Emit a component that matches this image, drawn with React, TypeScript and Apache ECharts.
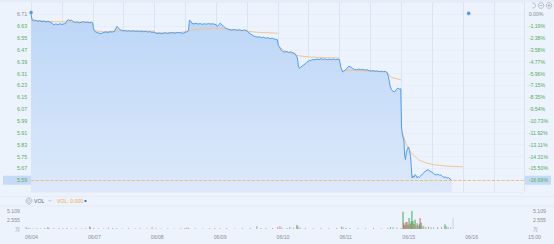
import React, { useEffect, useRef } from "react";
import * as echarts from "echarts";

// Trading days (240 minutes each), x is the minute index across all days
const DAYS = ["06/04", "06/07", "06/08", "06/09", "06/10", "06/11", "06/15", "06/16"];
const END_LABEL = "15:00";
const PREV_CLOSE = 6.71;
const LAST_PRICE = 5.59;

// Price (minute index, price)
const PRICE: [number, number][] = [
  [0, 6.71], [4, 6.672], [10, 6.665], [18, 6.668], [26, 6.662], [34, 6.666], [42, 6.66], [50, 6.664], [58, 6.658], [66, 6.662], [74, 6.657], [82, 6.65], [88, 6.638], [96, 6.645], [104, 6.64], [112, 6.646], [120, 6.641], [128, 6.645], [134, 6.648], [140, 6.668], [146, 6.672], [152, 6.668], [158, 6.67], [164, 6.66], [172, 6.655], [180, 6.658], [188, 6.652], [196, 6.656], [204, 6.66], [212, 6.654], [220, 6.657], [228, 6.652], [236, 6.655], [240, 6.65],
  [242, 6.62], [246, 6.598], [252, 6.59], [260, 6.585], [268, 6.58], [276, 6.582], [284, 6.588], [292, 6.59], [300, 6.587], [308, 6.592], [316, 6.59], [324, 6.594], [330, 6.615], [334, 6.628], [338, 6.62], [344, 6.608], [350, 6.603], [358, 6.598], [366, 6.6], [374, 6.596], [382, 6.599], [390, 6.595], [398, 6.598], [406, 6.594], [414, 6.597], [422, 6.593], [430, 6.596], [438, 6.592], [446, 6.595], [454, 6.59], [462, 6.593], [470, 6.588], [478, 6.59],
  [482, 6.585], [490, 6.58], [498, 6.583], [506, 6.578], [514, 6.582], [522, 6.585], [530, 6.58], [540, 6.584], [550, 6.586], [560, 6.582], [570, 6.587], [580, 6.585], [592, 6.582], [600, 6.588], [606, 6.592], [612, 6.6], [616, 6.67], [620, 6.665], [626, 6.648], [634, 6.645], [642, 6.648], [650, 6.644], [658, 6.647], [666, 6.642], [674, 6.646], [682, 6.643], [690, 6.647], [698, 6.644], [706, 6.646], [714, 6.642], [720, 6.64],
  [724, 6.628], [730, 6.64], [736, 6.65], [742, 6.638], [748, 6.63], [756, 6.617], [764, 6.61], [772, 6.606], [780, 6.603], [790, 6.607], [800, 6.602], [810, 6.605], [820, 6.6], [830, 6.604], [840, 6.598], [848, 6.583], [856, 6.575], [864, 6.565], [872, 6.56], [880, 6.556], [888, 6.558], [896, 6.552], [904, 6.555], [912, 6.548], [920, 6.552], [930, 6.546], [940, 6.548], [950, 6.54], [958, 6.538],
  [962, 6.5], [966, 6.49], [972, 6.47], [978, 6.46], [986, 6.455], [994, 6.458], [1002, 6.452], [1010, 6.456], [1018, 6.45], [1024, 6.448], [1030, 6.435], [1036, 6.415], [1040, 6.36], [1044, 6.345], [1048, 6.352], [1054, 6.36], [1060, 6.368], [1066, 6.375], [1072, 6.385], [1078, 6.392], [1084, 6.398], [1090, 6.4], [1096, 6.405], [1104, 6.403], [1112, 6.408], [1120, 6.404], [1128, 6.41], [1136, 6.405], [1144, 6.408], [1152, 6.403], [1160, 6.407], [1168, 6.404], [1176, 6.408], [1184, 6.403], [1192, 6.406], [1199, 6.404],
  [1204, 6.36], [1208, 6.335], [1214, 6.32], [1220, 6.33], [1228, 6.345], [1236, 6.36], [1242, 6.355], [1250, 6.345], [1258, 6.338], [1266, 6.335], [1274, 6.34], [1282, 6.336], [1290, 6.338], [1298, 6.333], [1306, 6.336], [1314, 6.33], [1322, 6.327], [1330, 6.33], [1338, 6.325], [1346, 6.328], [1354, 6.323], [1362, 6.326], [1370, 6.322], [1378, 6.325], [1384, 6.318], [1390, 6.29], [1396, 6.23], [1402, 6.2], [1408, 6.19], [1414, 6.186], [1420, 6.2], [1426, 6.212], [1432, 6.205], [1438, 6.207],
  [1441, 5.95], [1444, 5.9], [1447, 5.88], [1450, 5.86], [1453, 5.76], [1456, 5.73], [1460, 5.78], [1464, 5.8], [1468, 5.815], [1472, 5.79], [1476, 5.75], [1479, 5.68], [1482, 5.605], [1486, 5.62], [1490, 5.61], [1494, 5.628], [1498, 5.62], [1502, 5.606], [1506, 5.615], [1510, 5.61], [1516, 5.62], [1522, 5.632], [1528, 5.64], [1534, 5.652], [1540, 5.658], [1546, 5.66], [1552, 5.65], [1558, 5.645], [1564, 5.638], [1570, 5.63], [1576, 5.626], [1582, 5.63], [1588, 5.624], [1594, 5.626], [1600, 5.615], [1606, 5.61], [1612, 5.612], [1618, 5.605], [1624, 5.607], [1630, 5.598], [1636, 5.59],
];

// Average price line ('-' breaks the line)
const AVG: [number, number | string][] = [
  [2, 6.68], [20, 6.668], [50, 6.663], [90, 6.66], [140, 6.658], [200, 6.658], [240, 6.657], [241, "-"],
  [242, 6.6], [280, 6.592], [340, 6.597], [400, 6.598], [480, 6.596], [481, "-"],
  [482, 6.585], [520, 6.585], [580, 6.587], [620, 6.6], [660, 6.61], [720, 6.615], [760, 6.61], [800, 6.603], [848, 6.593], [900, 6.586], [960, 6.582], [962, "-"],
  [964, 6.49], [990, 6.46], [1040, 6.43], [1080, 6.422], [1140, 6.418], [1200, 6.415], [1205, "-"],
  [1210, 6.33], [1260, 6.33], [1320, 6.325], [1370, 6.322], [1385, 6.315], [1400, 6.285], [1440, 6.267], [1441, "-"],
  [1443, 5.915], [1460, 5.83], [1481, 5.77], [1508, 5.727], [1540, 5.705], [1573, 5.693], [1620, 5.685], [1680, 5.68],
];

const DOTS: [number, number][] = [[0, 6.722], [1702, 6.716]];

// Volume (minute index, volume in 万, direction: 1 up / -1 down / 0 flat)
const VOL: [number, number, number][] = [
  [4, 0.6, -1], [12, 0.25, 1], [20, 0.2, -1], [30, 0.15, 1], [45, 0.2, -1], [60, 0.15, -1], [75, 0.25, 1], [87, 0.55, -1], [92, 0.3, -1], [110, 0.2, 1], [130, 0.25, 1], [145, 0.2, -1], [160, 0.3, 1], [175, 0.15, -1], [195, 0.2, 1], [215, 0.15, -1], [232, 0.2, 1],
  [246, 0.7, -1], [250, 0.5, 1], [262, 0.3, -1], [280, 0.2, 1], [300, 0.15, -1], [318, 0.35, 1], [335, 0.3, -1], [350, 0.2, 1], [370, 0.15, -1], [395, 0.2, 1], [420, 0.15, -1], [440, 0.2, 1], [465, 0.15, -1],
  [485, 0.5, -1], [500, 0.2, 1], [520, 0.15, -1], [545, 0.2, 1], [570, 0.15, -1], [595, 0.2, 1], [610, 0.3, -1], [618, 0.4, 1], [625, 0.3, -1], [650, 0.2, -1], [680, 0.15, 1], [705, 0.2, -1],
  [725, 0.3, 1], [745, 0.2, -1], [770, 0.25, 1], [800, 0.15, -1], [830, 0.2, 1], [860, 0.3, -1], [885, 0.85, -1], [900, 0.3, 1], [920, 0.25, -1], [945, 0.3, 1],
  [965, 0.6, 1], [973, 0.85, 1], [980, 0.4, -1], [1000, 0.3, -1], [1011, 0.55, -1], [1025, 0.35, 1], [1038, 1.15, -1], [1042, 0.7, 1], [1050, 0.4, -1], [1070, 0.25, 1], [1100, 0.2, -1], [1130, 0.25, 1], [1160, 0.2, -1], [1190, 0.25, 1],
  [1208, 0.7, -1], [1214, 0.5, 1], [1225, 0.35, 1], [1240, 0.3, -1], [1270, 0.2, 1], [1300, 0.2, -1], [1330, 0.25, 1], [1360, 0.2, -1], [1385, 0.3, 1], [1395, 0.6, -1], [1405, 0.5, -1], [1420, 0.35, 1], [1435, 0.3, -1],
  [1443, 4.9, -1], [1446, 1.6, 1], [1450, 1.1, -1], [1454, 1.9, 1], [1458, 2.0, 1], [1462, 1.2, -1], [1466, 3.1, -1], [1470, 1.5, 1], [1474, 2.2, -1], [1477, 5.1, -1], [1481, 2.3, -1], [1485, 1.4, 1], [1489, 2.6, -1], [1493, 1.0, 1], [1497, 1.6, -1], [1501, 0.9, 1], [1505, 1.3, -1], [1508, 3.1, 1], [1512, 1.8, -1], [1516, 0.8, 1], [1522, 0.9, -1], [1530, 0.6, 1], [1540, 0.7, -1], [1550, 0.5, 1], [1560, 0.4, -1], [1575, 0.5, -1], [1590, 0.6, 1], [1603, 1.3, -1], [1608, 0.8, -1], [1615, 0.5, 1], [1625, 0.4, -1], [1634, 3.1, 0],
];
const VOL_MAX = 5.109;
const VOL_TICKS = ["万", "2.555", "5.109"];

const GREEN_TXT = "#4fae58";
const GREY_TXT = "#8a8f99";
const FONT = "Arial";
const FS = 5.2;

export default function App() {
  const ref = useRef<HTMLDivElement>(null);
  useEffect(() => {
    document.body.style.margin = "0";
    const chart = echarts.init(ref.current!, undefined, { renderer: "svg" });
    const near = (a: number, b: number) => Math.abs(a - b) < 0.002;
    const hidden = (v: number) => near(v, 5.51) || near(v, 6.79);
    const mainMin = 5.51, mainMax = 6.79, step = 0.08;

    const option: any = {
      animation: false,
      backgroundColor: "#edf3fc",
      textStyle: { fontFamily: FONT },
      grid: [
        { left: 25, right: 26, top: 2.4, height: 189.7 },
        { left: 25, right: 26, top: 211, height: 18 },
      ],
      xAxis: [
        {
          type: "value", gridIndex: 0, min: 0, max: 1920, interval: 120,
          axisLine: { show: false }, axisTick: { show: false }, axisLabel: { show: false },
          splitLine: { show: true, lineStyle: { color: "#dae5f4", width: 1 } },
        },
        {
          type: "value", gridIndex: 1, min: 0, max: 1920, interval: 120,
          axisLine: { show: false }, axisTick: { show: false }, splitLine: { show: false },
          axisLabel: {
            fontSize: FS, color: GREY_TXT, align: "left", margin: 5, fontFamily: FONT,
            formatter: (v: number) => {
              if (v % 240 !== 0) return "";
              if (v >= 1920) return END_LABEL;
              return DAYS[v / 240];
            },
          },
        },
      ],
      yAxis: [
        {
          type: "value", gridIndex: 0, position: "left", min: mainMin, max: mainMax, interval: step,
          axisLine: { show: false }, axisTick: { show: false },
          splitLine: { show: true, lineStyle: { color: "#e3ebf7", width: 0.6 } },
          axisLabel: {
            margin: 0, fontSize: FS, fontFamily: FONT,
            formatter: (v: number) => {
              if (hidden(v)) return "";
              const s = v.toFixed(2);
              if (near(v, LAST_PRICE)) return `{hl|${s}}`;
              if (near(v, PREV_CLOSE)) return `{g|${s}}`;
              return `{n|${s}}`;
            },
            rich: {
              g: { color: GREY_TXT, fontSize: FS, padding: [0, 4, 0, 0] },
              n: { color: GREEN_TXT, fontSize: FS, padding: [0, 4, 0, 0] },
              hl: { color: GREEN_TXT, fontSize: FS, backgroundColor: "#c4dbf7", padding: [2, 4, 2, 14] },
            },
          },
        },
        {
          type: "value", gridIndex: 0, position: "right", min: mainMin, max: mainMax, interval: step,
          axisLine: { show: false }, axisTick: { show: false }, splitLine: { show: false },
          axisLabel: {
            margin: 0, fontSize: FS, fontFamily: FONT,
            formatter: (v: number) => {
              if (hidden(v)) return "";
              const pct = ((v - PREV_CLOSE) / PREV_CLOSE) * 100;
              const s = (Math.abs(pct) < 0.005 ? 0 : pct).toFixed(2) + "%";
              if (near(v, LAST_PRICE)) return `{hl|${s}}`;
              if (near(v, PREV_CLOSE)) return `{g|${s}}`;
              return `{n|${s}}`;
            },
            rich: {
              g: { color: GREY_TXT, fontSize: FS, padding: [0, 0, 0, 4] },
              n: { color: GREEN_TXT, fontSize: FS, padding: [0, 0, 0, 4] },
              hl: { color: GREEN_TXT, fontSize: FS, backgroundColor: "#c4dbf7", padding: [2, 3, 2, 4] },
            },
          },
        },
        {
          type: "value", gridIndex: 1, position: "left", min: 0, max: VOL_MAX, interval: VOL_MAX / 2,
          axisLine: { show: false }, axisTick: { show: false }, splitLine: { show: false },
          axisLabel: {
            margin: 5, fontSize: FS, color: GREY_TXT, fontFamily: FONT,
            formatter: (v: number) => (v < 0.01 ? VOL_TICKS[0] : v < 3 ? VOL_TICKS[1] : VOL_TICKS[2]),
          },
        },
        {
          type: "value", gridIndex: 1, position: "right", min: 0, max: VOL_MAX, interval: VOL_MAX / 2,
          axisLine: { show: false }, axisTick: { show: false }, splitLine: { show: false },
          axisLabel: {
            margin: 5, fontSize: FS, color: GREY_TXT, fontFamily: FONT,
            formatter: (v: number) => (v < 0.01 ? VOL_TICKS[0] : v < 3 ? VOL_TICKS[1] : VOL_TICKS[2]),
          },
        },
      ],
      series: [
        {
          type: "line", xAxisIndex: 0, yAxisIndex: 0, data: PRICE, showSymbol: false, z: 1,
          lineStyle: { width: 0 },
          areaStyle: {
            color: new echarts.graphic.LinearGradient(0, 0, 0, 1, [
              { offset: 0, color: "#bcd6f7" },
              { offset: 1, color: "#dde9fb" },
            ]),
            opacity: 1,
          },
          markLine: {
            silent: true, symbol: "none", label: { show: false },
            lineStyle: { type: "dashed", color: "#f3b25c", width: 0.8 },
            data: [{ yAxis: LAST_PRICE }],
          },
        },
        {
          type: "line", xAxisIndex: 0, yAxisIndex: 0, data: AVG, showSymbol: false, z: 2,
          connectNulls: false,
          lineStyle: { color: "#f1c58e", width: 1 },
        },
        {
          type: "line", xAxisIndex: 0, yAxisIndex: 0, data: PRICE, showSymbol: false, z: 3,
          lineStyle: { color: "#4c9df1", width: 1 },
        },
        {
          type: "scatter", xAxisIndex: 0, yAxisIndex: 0, data: DOTS, symbolSize: 3.5, z: 4,
          itemStyle: { color: "#2f86e8" },
        },
        {
          type: "bar", xAxisIndex: 1, yAxisIndex: 2, barWidth: 1,
          data: VOL.map(([t, v, d]) => ({
            value: [t, v],
            itemStyle: { color: d > 0 ? "#ee4444" : d < 0 ? "#2aa34a" : "#c5ccd6", opacity: v > 1 ? 0.9 : 0.6 },
          })),
        },
      ],
      graphic: [
        { type: "rect", left: 0, top: 0, shape: { width: 554, height: 2 }, style: { fill: "#e3ecf8" }, silent: true },
        { type: "line", shape: { x1: 0, y1: 196.5, x2: 554, y2: 196.5 }, style: { stroke: "#e0e8f4", lineWidth: 0.6 }, silent: true },
        { type: "line", shape: { x1: 0, y1: 206, x2: 554, y2: 206 }, style: { stroke: "#e0e8f4", lineWidth: 0.6 }, silent: true },
        // VOL legend row
        { type: "circle", shape: { cx: 29, cy: 201, r: 3 }, style: { fill: "none", stroke: "#9aa3ae", lineWidth: 0.7 }, silent: true },
        { type: "circle", shape: { cx: 29, cy: 201, r: 1.3 }, style: { fill: "none", stroke: "#9aa3ae", lineWidth: 0.6 }, silent: true },
        { type: "text", x: 34, y: 201, style: { text: "VOL", fontSize: FS, fill: "#5c6470", fontFamily: FONT, verticalAlign: "middle" }, silent: true },
        { type: "polyline", shape: { points: [[48.5, 200], [50, 201.5], [51.5, 200]] }, style: { stroke: "#9aa3ae", lineWidth: 0.6, fill: "none" }, silent: true },
        { type: "text", x: 57, y: 201, style: { text: "VOL: 0.000", fontSize: FS, fill: "#f5a83a", fontFamily: FONT, verticalAlign: "middle" }, silent: true },
        { type: "rect", shape: { x: 84.5, y: 200, width: 2, height: 2 }, style: { fill: "#3b78c8" }, silent: true },
        // toolbar icons
        { type: "arc", shape: { cx: 533, cy: 5.5, r: 2.5, startAngle: -Math.PI * 0.6, endAngle: Math.PI * 0.6 }, style: { stroke: "#9aa3ae", lineWidth: 0.7, fill: "none" }, silent: true },
        { type: "circle", shape: { cx: 541, cy: 5.5, r: 2.8 }, style: { fill: "none", stroke: "#9aa3ae", lineWidth: 0.7 }, silent: true },
        { type: "line", shape: { x1: 539.6, y1: 5.5, x2: 542.4, y2: 5.5 }, style: { stroke: "#9aa3ae", lineWidth: 0.7 }, silent: true },
        { type: "circle", shape: { cx: 549, cy: 5.5, r: 2.8 }, style: { fill: "none", stroke: "#9aa3ae", lineWidth: 0.7 }, silent: true },
        { type: "line", shape: { x1: 547.6, y1: 5.5, x2: 550.4, y2: 5.5 }, style: { stroke: "#9aa3ae", lineWidth: 0.7 }, silent: true },
        { type: "line", shape: { x1: 549, y1: 4.1, x2: 549, y2: 6.9 }, style: { stroke: "#9aa3ae", lineWidth: 0.7 }, silent: true },
      ],
    };
    chart.setOption(option);
    return () => chart.dispose();
  }, []);
  return <div ref={ref} style={{ width: 554, height: 244 }} />;
}
